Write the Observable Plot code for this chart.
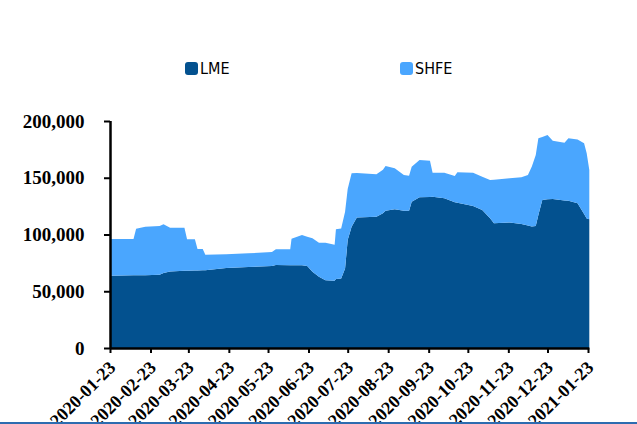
<!DOCTYPE html>
<html><head><meta charset="utf-8">
<script src="https://cdn.jsdelivr.net/npm/d3@7"></script>
<script src="https://cdn.jsdelivr.net/npm/@observablehq/plot@0.6"></script>
<style>
body{margin:0;background:#fff;}
#wrap{position:relative;width:637px;height:424px;overflow:hidden;background:#fff;}
.leg{position:absolute;top:59px;font-family:"DejaVu Sans Condensed","DejaVu Sans",sans-serif;font-size:16px;display:flex;align-items:center;color:#000;z-index:2;}
.sw{display:inline-block;width:13px;height:13px;border-radius:3px;margin-right:2px;}
#chart{position:absolute;left:0;top:0;}
#edge{position:absolute;left:0;top:422px;width:637px;height:2px;background:#2D6CB0;z-index:3;}
</style></head><body>
<div id="wrap">
<div class="leg" style="left:185px"><span class="sw" style="background:#03518F"></span>LME</div>
<div class="leg" style="left:400px"><span class="sw" style="background:#4AA6FE"></span>SHFE</div>
<div id="chart"></div>
<div id="edge"></div>
</div>
<script>
const dates = ["2020-01-23","2020-02-10","2020-02-12","2020-02-19","2020-03-01","2020-03-04","2020-03-09","2020-03-20","2020-03-22","2020-03-28","2020-03-30","2020-04-03","2020-04-05","2020-04-21","2020-05-08","2020-05-26","2020-05-29","2020-06-09","2020-06-10","2020-06-18","2020-06-22","2020-06-26","2020-07-01","2020-07-06","2020-07-13","2020-07-14","2020-07-18","2020-07-21","2020-07-23","2020-07-26","2020-07-30","2020-08-14","2020-08-19","2020-08-21","2020-08-28","2020-09-04","2020-09-08","2020-09-10","2020-09-16","2020-09-24","2020-09-26","2020-10-05","2020-10-13","2020-10-15","2020-10-27","2020-11-03","2020-11-09","2020-11-12","2020-11-24","2020-12-03","2020-12-08","2020-12-11","2020-12-14","2020-12-16","2020-12-19","2020-12-23","2020-12-27","2021-01-05","2021-01-08","2021-01-15","2021-01-20","2021-01-22","2021-01-24"];
const lme = [63700,64000,64000,64200,64600,66000,67500,68100,68100,68300,68300,68400,68400,70500,71400,72300,73100,73000,73000,72800,72300,67200,62800,59600,59300,60800,61300,70000,95100,106900,115000,115700,118700,121000,122300,121000,121000,128900,132800,133000,133300,132000,128500,128000,125100,121600,114300,109900,110500,109200,108000,107000,107500,117200,130400,131000,131300,130000,129800,127500,118000,114000,113400];
const shfe = [32300,32000,41100,42700,42900,43000,38500,37900,27700,27500,18900,18800,13800,12100,12000,12300,13900,14000,23300,26800,25700,29400,30000,33200,31700,43800,43900,50000,44900,47000,39200,37300,38300,39300,36000,31500,30800,30800,32800,32000,21200,22500,23000,26800,29400,29300,33700,38400,39000,41200,44400,53000,62500,67500,55600,56700,51300,50900,54900,56300,62300,57500,43400];
const seriesNames = ["LME","SHFE"];
const tickDates = ["2020-01-23","2020-02-23","2020-03-23","2020-04-23","2020-05-23","2020-06-23","2020-07-23","2020-08-23","2020-09-23","2020-10-23","2020-11-23","2020-12-23","2021-01-23"];
const yTicks = [0,50000,100000,150000,200000];

const parse = d3.utcParse("%Y-%m-%d");
const data = [];
dates.forEach((d,i)=>data.push({date:parse(d),value:lme[i],series:"LME"}));
dates.forEach((d,i)=>data.push({date:parse(d),value:shfe[i],series:"SHFE"}));
const xt = tickDates.map(parse);

const chart = Plot.plot({
  width:637, height:424,
  marginLeft:110, marginRight:49, marginTop:121, marginBottom:76,
  style:{background:"transparent", color:"#000", overflow:"hidden"},
  x:{type:"utc", domain:[xt[0], xt[xt.length-1]]},
  y:{domain:[0,200000]},
  color:{domain:seriesNames, range:["#03518F","#4AA6FE"]},
  marks:[
    Plot.areaY(data,{x:"date", y:"value", fill:"series", z:"series"}),
    Plot.axisY({ticks:yTicks, tickFormat:d3.format(","), tickSize:6, tickPadding:20, strokeWidth:2,
      fontSize:19, fontWeight:"bold", fontFamily:"Liberation Serif", label:null}),
    Plot.axisX({ticks:xt, tickFormat:()=>"", tickSize:5, strokeWidth:2, label:null}),
    Plot.axisX({ticks:xt, tickFormat:d3.utcFormat("%Y-%m-%d"), tickSize:0, tickPadding:16,
      tickRotate:-45, fontSize:18, fontWeight:"bold", fontFamily:"Liberation Serif", label:null, dx:2}),
    Plot.ruleX([xt[0]], {y1:0, y2:200000, stroke:"#000", strokeWidth:2.5}),
    Plot.ruleY([0], {x1:xt[0], x2:parse("2021-01-24"), stroke:"#000", strokeWidth:2.5})
  ]
});
document.getElementById("chart").appendChild(chart);
</script>
</body></html>
